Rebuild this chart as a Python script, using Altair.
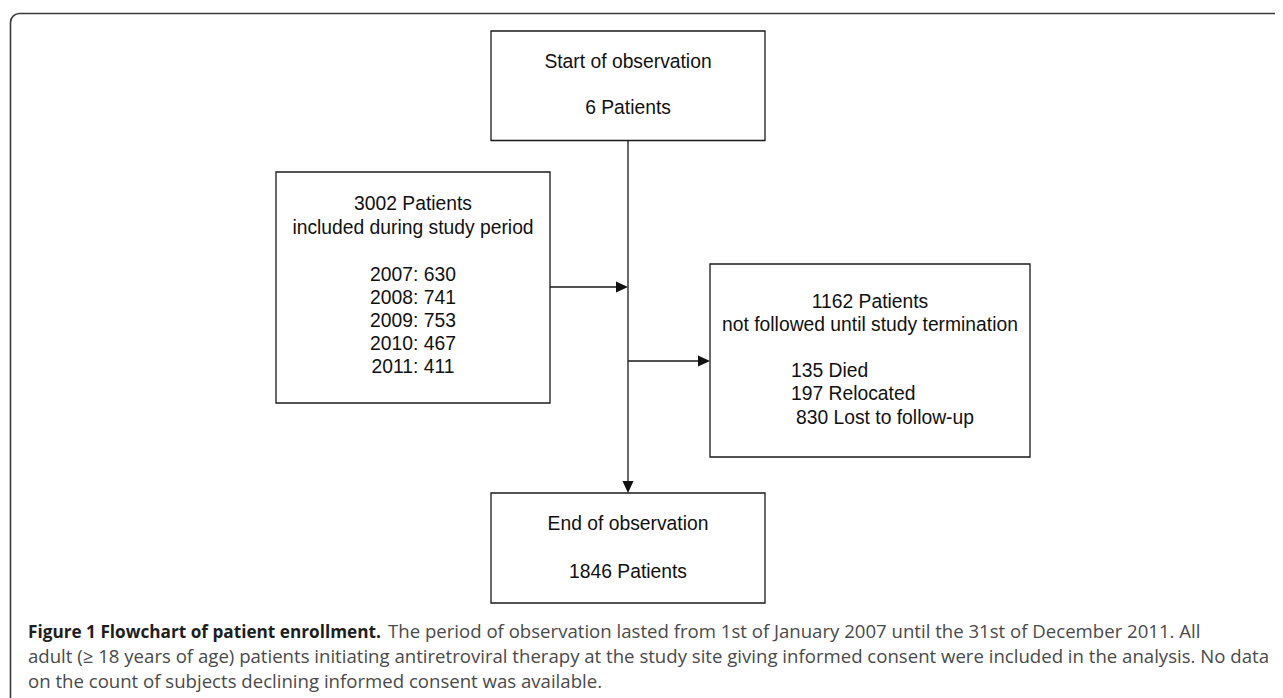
import altair as alt
import pandas as pd

# ---------------- content (text values) ----------------
start_lines = ["Start of observation", "6 Patients"]
included_total = 3002
included_label = "included during study period"
years = ["2007", "2008", "2009", "2010", "2011"]
year_counts = [630, 741, 753, 467, 411]
lost_total = 1162
lost_label = "not followed until study termination"
lost_counts = [135, 197, 830]
lost_reasons = ["Died", "Relocated", "Lost to follow-up"]
end_lines = ["End of observation", "1846 Patients"]
caption_title = "Figure 1 Flowchart of patient enrollment."
caption_lines = [
    "The period of observation lasted from 1st of January 2007 until the 31st of December 2011. All",
    "adult (\u2265 18 years of age) patients initiating antiretroviral therapy at the study site giving informed consent were included in the analysis. No data",
    "on the count of subjects declining informed consent was available.",
]

# ---------------- layout (page pixel coordinates) ----------------
W, H = 1267, 690
X0, Y0 = 8, 8
xs = alt.Scale(domain=[X0, X0 + W], nice=False, zero=False)
ys = alt.Scale(domain=[Y0, Y0 + H], nice=False, zero=False, reverse=True)

LINE_X = 628
box_layout = {
    "start": (491, 765, 31, 140.5),
    "included": (276, 550, 172, 403),
    "lost": (710, 1030, 264, 457),
    "end": (491, 765, 493, 603),
}
FONT = "Liberation Sans"
FS = 19.3
CAP_FONT = "Open Sans"
CAP_FS = 18.6
CAP_BOLD_FS = 17.2

def X(f="x"):
    return alt.X(f"{f}:Q", scale=xs, axis=None)

def Y(f="y"):
    return alt.Y(f"{f}:Q", scale=ys, axis=None)

# frame with rounded top-left corner
frame_df = pd.DataFrame([{"x": 10.5, "x2": 1320, "y": 13.5, "y2": 730}])
frame = alt.Chart(frame_df).mark_rect(
    fillOpacity=0, stroke="#3a3a3a", strokeWidth=1.6, cornerRadiusTopLeft=9
).encode(x=X(), x2="x2:Q", y=Y(), y2="y2:Q")

boxes_df = pd.DataFrame(
    [{"name": k, "x": v[0], "x2": v[1], "y": v[2], "y2": v[3]} for k, v in box_layout.items()]
)
boxes = alt.Chart(boxes_df).mark_rect(
    fill="white", stroke="#1a1a1a", strokeWidth=1.3
).encode(x=X(), x2="x2:Q", y=Y(), y2="y2:Q")

inc_cx = (box_layout["included"][0] + box_layout["included"][1]) / 2
lost_cx = (box_layout["lost"][0] + box_layout["lost"][1]) / 2
arrow1_y, arrow2_y = 287, 361
end_top = box_layout["end"][2]

rules_df = pd.DataFrame([
    {"x": LINE_X, "x2": LINE_X, "y": box_layout["start"][3], "y2": end_top - 6},
    {"x": box_layout["included"][1], "x2": LINE_X - 6, "y": arrow1_y, "y2": arrow1_y},
    {"x": LINE_X, "x2": box_layout["lost"][0] - 6, "y": arrow2_y, "y2": arrow2_y},
])
rules = alt.Chart(rules_df).mark_rule(color="#1a1a1a", strokeWidth=1.3).encode(
    x=X(), x2="x2:Q", y=Y(), y2="y2:Q"
)

heads_df = pd.DataFrame([
    {"x": LINE_X - 6, "y": arrow1_y, "dir": "r"},
    {"x": box_layout["lost"][0] - 6, "y": arrow2_y, "dir": "r"},
    {"x": LINE_X, "y": end_top - 6, "dir": "d"},
])
head_r = alt.Chart(heads_df[heads_df.dir == "r"]).mark_point(
    shape="M1,0L-1,-0.92L-1,0.92Z", size=144, filled=True, color="#111", opacity=1
).encode(x=X(), y=Y())
head_d = alt.Chart(heads_df[heads_df.dir == "d"]).mark_point(
    shape="M0,1L-0.92,-1L0.92,-1Z", size=144, filled=True, color="#111", opacity=1
).encode(x=X(), y=Y())

center_text = []
center_text += [{"x": LINE_X, "y": 62, "t": start_lines[0]}, {"x": LINE_X, "y": 108, "t": start_lines[1]}]
center_text += [{"x": inc_cx, "y": 204, "t": f"{included_total} Patients"},
                {"x": inc_cx, "y": 228, "t": included_label}]
for i, (yr, c) in enumerate(zip(years, year_counts)):
    center_text.append({"x": inc_cx, "y": 274.5 + i * 23.2, "t": f"{yr}: {c}"})
center_text += [{"x": lost_cx, "y": 301.5, "t": f"{lost_total} Patients"},
                {"x": lost_cx, "y": 325, "t": lost_label}]
center_text += [{"x": LINE_X, "y": 524, "t": end_lines[0]}, {"x": LINE_X, "y": 572, "t": end_lines[1]}]
ct = alt.Chart(pd.DataFrame(center_text)).mark_text(
    font=FONT, fontSize=FS, color="#111", align="center", baseline="middle"
).encode(x=X(), y=Y(), text="t:N")

left_text = []
lost_x = [791, 791, 796]
for i, (c, r) in enumerate(zip(lost_counts, lost_reasons)):
    left_text.append({"x": lost_x[i], "y": 371 + i * 23.3, "t": f"{c} {r}"})
lt = alt.Chart(pd.DataFrame(left_text)).mark_text(
    font=FONT, fontSize=FS, color="#111", align="left", baseline="middle"
).encode(x=X(), y=Y(), text="t:N")

cap_base = [638, 663, 688]
cap_title = alt.Chart(pd.DataFrame([{"x": 28, "y": cap_base[0], "t": caption_title}])).mark_text(
    font=CAP_FONT, fontSize=CAP_BOLD_FS, fontWeight="bold", color="#1e1e1e", align="left", baseline="alphabetic"
).encode(x=X(), y=Y(), text="t:N")
cap_df = pd.DataFrame([
    {"x": 388, "y": cap_base[0], "t": caption_lines[0]},
    {"x": 28, "y": cap_base[1], "t": caption_lines[1]},
    {"x": 28, "y": cap_base[2], "t": caption_lines[2]},
])
cap_body = alt.Chart(cap_df).mark_text(
    font=CAP_FONT, fontSize=CAP_FS, color="#4a4a4a", align="left", baseline="alphabetic"
).encode(x=X(), y=Y(), text="t:N")

chart = alt.layer(frame, rules, boxes, head_r, head_d, ct, lt, cap_title, cap_body).properties(
    width=W, height=H, padding=0, autosize="none"
).configure_view(stroke=None)

chart.save("out.html", embed_options={"renderer": "svg", "actions": False})
